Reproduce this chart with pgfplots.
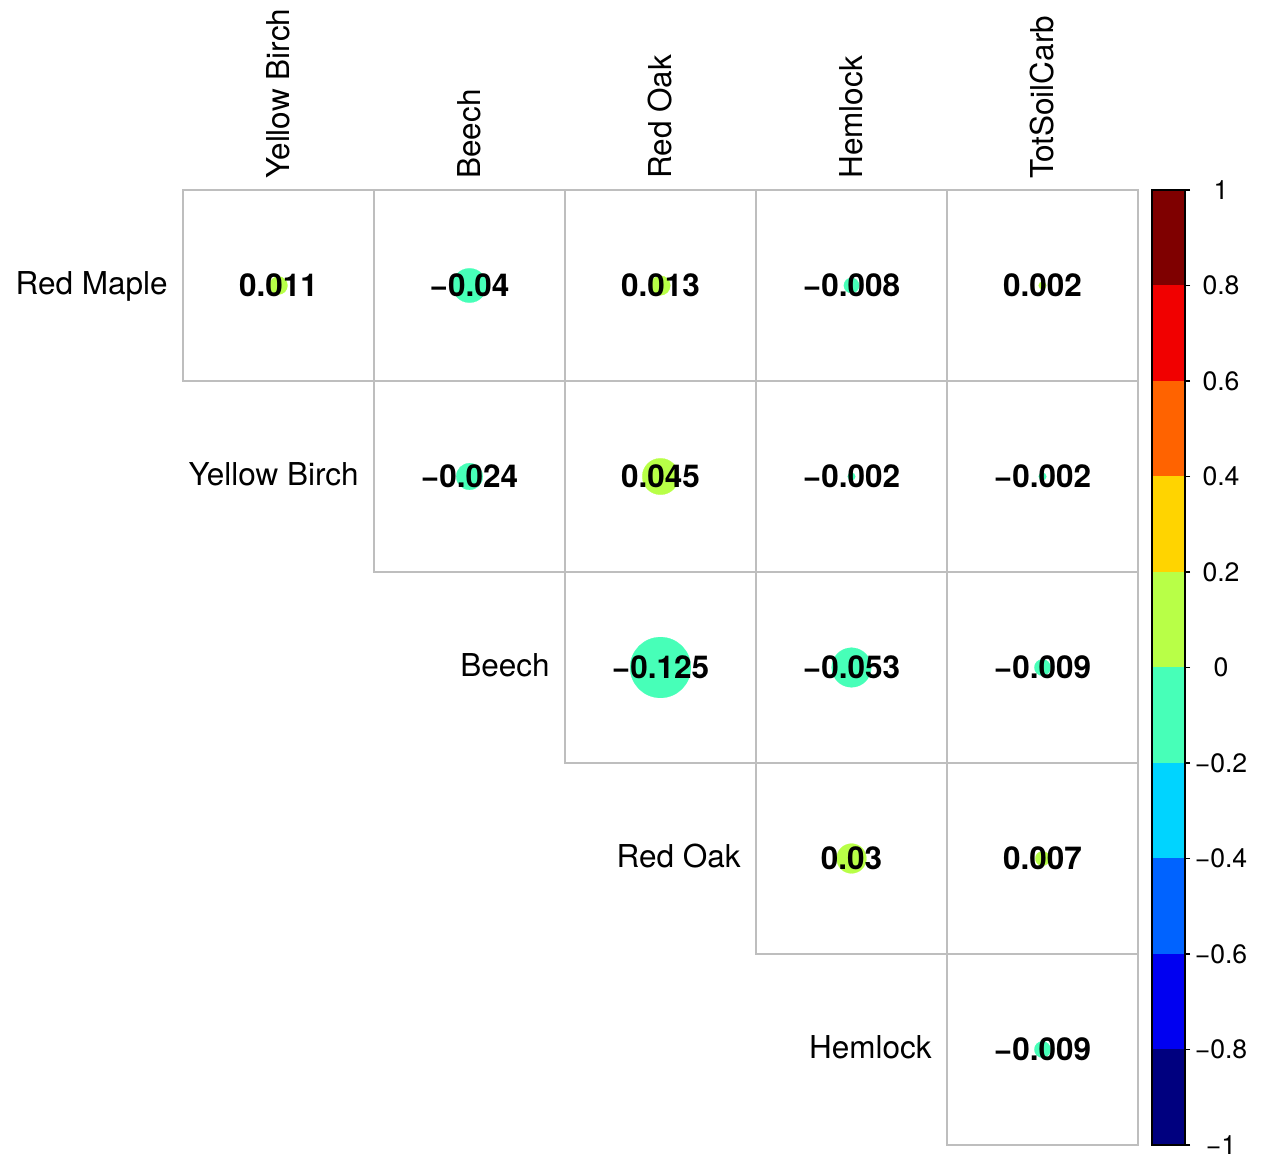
\documentclass[border=0pt]{standalone}
\usepackage{fontspec}
\setmainfont{TeX Gyre Heros}
\usepackage{pgfplots}
\pgfplotsset{compat=1.18}
\usepackage{pgfplotstable}

% ten-step palette from -1 to 1
\definecolor{cb1}{HTML}{00007F}
\definecolor{cb2}{HTML}{0000F1}
\definecolor{cb3}{HTML}{0063FF}
\definecolor{cb4}{HTML}{00D4FF}
\definecolor{cb5}{HTML}{47FFB8}
\definecolor{cb6}{HTML}{B8FF47}
\definecolor{cb7}{HTML}{FFD400}
\definecolor{cb8}{HTML}{FF6300}
\definecolor{cb9}{HTML}{F10000}
\definecolor{cb10}{HTML}{7F0000}
\definecolor{gridgray}{HTML}{BEBEBE}

\newcommand{\labfont}{\fontsize{15.75}{18}\selectfont}
\newcommand{\numfont}{\fontsize{15.75}{18}\selectfont\bfseries}
\newcommand{\barfont}{\fontsize{13.3}{16}\selectfont}

% col = variable across the top, row = variable on the left
\pgfplotstableread{
col row r lbl
2 1 -0.040 −0.04
4 1 -0.008 −0.008
2 2 -0.024 −0.024
4 2 -0.002 −0.002
5 2 -0.002 −0.002
3 3 -0.125 −0.125
4 3 -0.053 −0.053
5 3 -0.009 −0.009
5 5 -0.009 −0.009
}\negcorr

\pgfplotstableread{
col row r lbl
1 1 0.011 0.011
3 1 0.013 0.013
5 1 0.002 0.002
3 2 0.045 0.045
4 4 0.030 0.03
5 4 0.007 0.007
}\poscorr

% circle radius = 0.45 * sqrt(|r|) * cell size (cell = 95.5pt)
\pgfplotsset{
  corrdot/.style={
    scatter, only marks, mark=*,
    mark options={draw=#1, fill=#1, line width=0.1pt},
    scatter/use mapped color={draw=#1, fill=#1},
    visualization depends on={\thisrow{r} \as \rval},
    scatter/@pre marker code/.append style={/tikz/mark size={42.975*sqrt(abs(\rval))}},
  },
  corrtext/.style={
    only marks, mark=none,
    point meta=explicit symbolic,
    nodes near coords,
    every node near coord/.style={anchor=center, inner sep=0pt, text=black, font=\numfont},
  },
}
\tikzset{
  collab/.style={rotate=90, anchor=west, inner sep=0pt, font=\labfont},
  rowlab/.style={anchor=mid east, inner sep=0pt, font=\labfont},
}

\begin{document}
\begin{tikzpicture}
\useasboundingbox (0,0) rectangle (630.5pt,577pt);

\begin{axis}[
  at={(91.5pt,4.5pt)}, anchor=south west,
  scale only axis, width=477.5pt, height=477.5pt,
  xmin=0.5, xmax=5.5, ymin=0.5, ymax=5.5,
  y dir=reverse,
  hide axis, clip=false,
]
  % cell borders of the upper triangle
  \addplot[gridgray, line width=1pt, line cap=rect, unbounded coords=jump, mark=none] table {
x y
0.5 0.5
5.5 0.5
nan nan
0.5 1.5
5.5 1.5
nan nan
1.5 2.5
5.5 2.5
nan nan
2.5 3.5
5.5 3.5
nan nan
3.5 4.5
5.5 4.5
nan nan
4.5 5.5
5.5 5.5
nan nan
0.5 0.5
0.5 1.5
nan nan
1.5 0.5
1.5 2.5
nan nan
2.5 0.5
2.5 3.5
nan nan
3.5 0.5
3.5 4.5
nan nan
4.5 0.5
4.5 5.5
nan nan
5.5 0.5
5.5 5.5
};

  \addplot[corrdot=cb5] table[x=col, y=row] {\negcorr};
  \addplot[corrdot=cb6] table[x=col, y=row] {\poscorr};
  \addplot[corrtext] table[x=col, y=row, meta=lbl] {\negcorr};
  \addplot[corrtext] table[x=col, y=row, meta=lbl] {\poscorr};

  % column names
  \node[collab] at (axis cs:1,0.443) {Yellow Birch};
  \node[collab] at (axis cs:2,0.443) {Beech};
  \node[collab] at (axis cs:3,0.443) {Red Oak};
  \node[collab] at (axis cs:4,0.443) {Hemlock};
  \node[collab] at (axis cs:5,0.443) {TotSoilCarb};

  % row names
  \node[rowlab] at (axis cs:0.422,1.021) {Red Maple};
  \node[rowlab] at (axis cs:1.422,2.021) {Yellow Birch};
  \node[rowlab] at (axis cs:2.422,3.021) {Beech};
  \node[rowlab] at (axis cs:3.422,4.021) {Red Oak};
  \node[rowlab] at (axis cs:4.422,5.021) {Hemlock};
\end{axis}

% colour legend
\begin{axis}[
  at={(576pt,4.5pt)}, anchor=south west,
  scale only axis, width=16.5pt, height=477.5pt,
  xmin=0, xmax=1, ymin=-1, ymax=1,
  axis on top,
  axis line style={black, line width=0.8pt},
  xtick=\empty,
  ytick={-1,-0.8,-0.6,-0.4,-0.2,0,0.2,0.4,0.6,0.8,1},
  yticklabels={−1,−0.8,−0.6,−0.4,−0.2,0,0.2,0.4,0.6,0.8,1},
  ytick pos=right, yticklabel pos=right,
  tick align=outside, major tick length=2.5pt,
  tick style={black, line width=0.8pt},
  yticklabel style={anchor=center, inner sep=0pt, xshift=15.5pt, font=\barfont},
]
  \addplot[fill=cb1, draw=none] coordinates {(0,-1.0) (1,-1.0) (1,-0.8) (0,-0.8)} -- cycle;
  \addplot[fill=cb2, draw=none] coordinates {(0,-0.8) (1,-0.8) (1,-0.6) (0,-0.6)} -- cycle;
  \addplot[fill=cb3, draw=none] coordinates {(0,-0.6) (1,-0.6) (1,-0.4) (0,-0.4)} -- cycle;
  \addplot[fill=cb4, draw=none] coordinates {(0,-0.4) (1,-0.4) (1,-0.2) (0,-0.2)} -- cycle;
  \addplot[fill=cb5, draw=none] coordinates {(0,-0.2) (1,-0.2) (1,0.0) (0,0.0)} -- cycle;
  \addplot[fill=cb6, draw=none] coordinates {(0,0.0) (1,0.0) (1,0.2) (0,0.2)} -- cycle;
  \addplot[fill=cb7, draw=none] coordinates {(0,0.2) (1,0.2) (1,0.4) (0,0.4)} -- cycle;
  \addplot[fill=cb8, draw=none] coordinates {(0,0.4) (1,0.4) (1,0.6) (0,0.6)} -- cycle;
  \addplot[fill=cb9, draw=none] coordinates {(0,0.6) (1,0.6) (1,0.8) (0,0.8)} -- cycle;
  \addplot[fill=cb10, draw=none] coordinates {(0,0.8) (1,0.8) (1,1.0) (0,1.0)} -- cycle;
\end{axis}
\end{tikzpicture}
\end{document}
